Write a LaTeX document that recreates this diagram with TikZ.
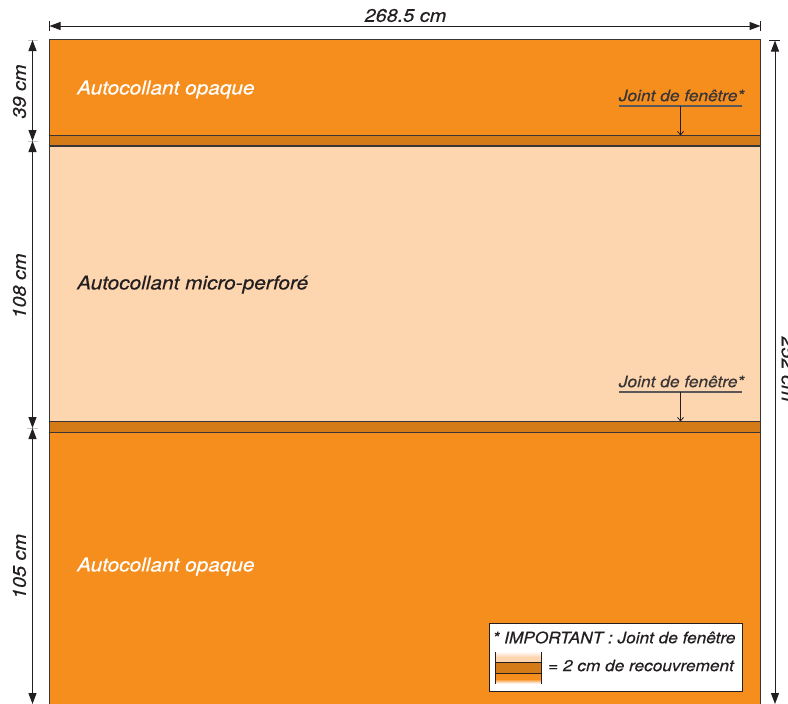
\documentclass[tikz,border=0pt]{standalone}
\usepackage{fontspec}
\setmainfont{TeX Gyre Heros}
\newfontfamily\medfont[ItalicFeatures={FakeBold=0.4,FakeStretch=1.09}]{TeX Gyre Heros}
\usetikzlibrary{arrows.meta}
\definecolor{orangeA}{HTML}{F68E1E}
\definecolor{bandB}{HTML}{D47B18}
\definecolor{peachC}{HTML}{FDD6B0}
\definecolor{inkD}{HTML}{231F20}
\definecolor{tickE}{HTML}{C8C8CA}
\tikzset{
  panel/.style={draw=inkD!90,line width=1.3pt},
  dimline/.style={draw=inkD,line width=1pt,{Triangle[length=11pt,width=8pt]}-{Triangle[length=11pt,width=8pt]}},
  endtick/.style={draw=inkD,line width=.9pt},
  softtick/.style={draw=tickE,line width=1pt},
  dimlabel/.style={font=\medfont\itshape\fontsize{18.2}{18}\selectfont,text=inkD,inner sep=0pt},
  mainlabel/.style={font=\medfont\itshape\fontsize{19.1}{19}\selectfont,inner sep=0pt,anchor=west},
  jointlabel/.style={font=\medfont\itshape\fontsize{15.9}{16}\selectfont,text=inkD!90,inner sep=0pt},
  jointrule/.style={draw=inkD!75,line width=1.1pt},
  jointarrow/.style={draw=inkD,line width=.8pt,-{Straight Barb[length=3.5pt,width=6pt]}},
  legendtext/.style={font=\medfont\itshape\fontsize{15.8}{16}\selectfont,text=inkD,inner sep=0pt,anchor=west},
}
\begin{document}
\begin{tikzpicture}[x=1pt,y=-1pt]
\useasboundingbox (0,0) rectangle (788,704);
\clip (0,0) rectangle (788,704);
\fill[white] (0,0) rectangle (788,704);
% panels
\path[panel,fill=orangeA] (49.5,39.5) rectangle (760.5,135.5);
\path[panel,fill=bandB] (49.5,135.5) rectangle (760.5,146);
\path[panel,fill=peachC] (49.5,146) rectangle (760.5,421.7);
\path[panel,fill=bandB] (49.5,421.7) rectangle (760.5,432.5);
\path[panel,fill=orangeA] (49.5,432.5) rectangle (760.5,712);
% coordinates for dimensions
\coordinate (tl) at (49.5,26);
\coordinate (tr) at (760.5,26);
\coordinate (a) at (32.5,40);
\coordinate (b) at (32.5,141);
\coordinate (c) at (32.5,428);
\coordinate (d) at (32.5,704);
\coordinate (r1) at (775,40.5);
\coordinate (r2) at (775,704);
% ticks
\draw[endtick] (49.5,21) -- (49.5,31);
\draw[endtick] (760.5,21) -- (760.5,31);
\draw[softtick] (28,40) -- (38,40);
\draw[softtick] (28,141) -- (38,141);
\draw[softtick] (27,428) -- (38,428);
\draw[endtick] (769,40.5) -- (779.5,40.5);
% dimensions
\draw[dimline] (tl) -- (tr);
\draw[dimline] (a) -- (b);
\draw[dimline] (b) -- (c);
\draw[dimline] (c) -- (d);
\draw[dimline] (r1) -- (r2);
% dim labels
\node[dimlabel] (w) at (405.5,15.5) {268.5 cm};
\node[dimlabel,rotate=90] (h1) at (19.5,91.5) {39 cm};
\node[dimlabel,rotate=90] (h2) at (19.5,286) {108 cm};
\node[dimlabel,rotate=90] (h3) at (19.5,566.5) {105 cm};
\node[dimlabel,rotate=-90] (h4) at (788,369) {252 cm};
% main labels
\node[mainlabel,text=white] (l1) at (77,89.5) {Autocollant opaque};
\node[mainlabel,text=inkD] (l2) at (77,284.5) {Autocollant micro-perforé};
\node[mainlabel,text=white] (l3) at (77,566.5) {Autocollant opaque};
% joints
\node[jointlabel] (j1) at (681.5,95.5) {Joint de fenêtre*};
\coordinate (j1a) at (619,106); \coordinate (j1b) at (742,106);
\coordinate (j1c) at (680.5,106); \coordinate (j1d) at (680.5,135.5);
\draw[jointrule] (j1a) -- (j1b);
\draw[jointarrow] (j1c) -- (j1d);
\node[jointlabel] (j2) at (681.5,381.5) {Joint de fenêtre*};
\coordinate (j2a) at (619,392); \coordinate (j2b) at (742,392);
\coordinate (j2c) at (680.5,392); \coordinate (j2d) at (680.5,421.5);
\draw[jointrule] (j2a) -- (j2b);
\draw[jointarrow] (j2c) -- (j2d);
% legend
\path[draw=inkD,line width=1pt,fill=white] (489.5,623.5) rectangle (742.5,691);
\node[legendtext] (k1) at (492.5,637.5) {* IMPORTANT : Joint de fenêtre};
\node[legendtext] (k2) at (548,665.5) {= 2 cm de recouvrement};
\path[top color=white,bottom color=peachC] (496,651.5) rectangle (541,657);
\fill[peachC] (496,657) rectangle (541,662.5);
\fill[bandB] (496,662.5) rectangle (541,673);
\fill[orangeA] (496,673) rectangle (541,679);
\path[top color=orangeA,bottom color=white] (496,679) rectangle (541,683.5);
\draw[inkD,line width=.8pt] (496,662.5) -- (541,662.5) (496,673) -- (541,673);
\draw[inkD,line width=.8pt] (495.7,651.5) -- (495.7,683.5) (541,651.5) -- (541,683.5);
\end{tikzpicture}
\end{document}
